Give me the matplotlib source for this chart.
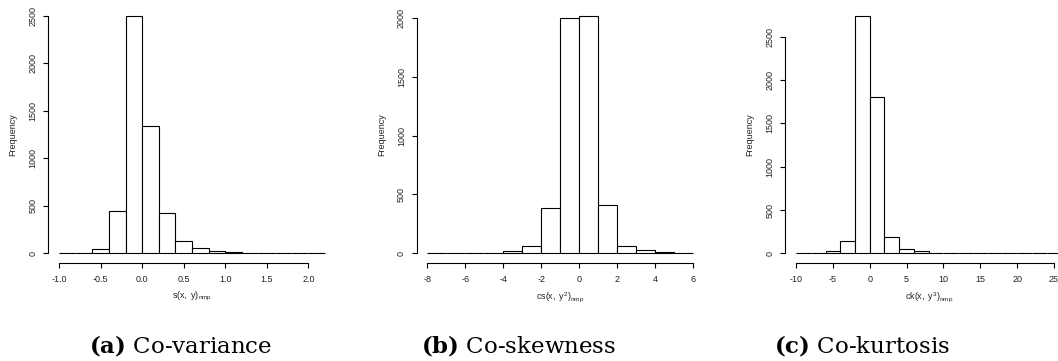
import numpy as np
import matplotlib
matplotlib.use('Agg')
import matplotlib.pyplot as plt

plt.rcParams['font.family'] = ['Liberation Sans', 'DejaVu Sans']
plt.rcParams['axes.unicode_minus'] = False
plt.rcParams['mathtext.fontset'] = 'custom'
plt.rcParams['mathtext.rm'] = 'Liberation Sans'
plt.rcParams['mathtext.it'] = 'Liberation Sans'

# ---- histogram counts (bin edges + frequencies) ----
cov_edges = np.arange(-1.0, 2.2 + 1e-9, 0.2)
cov_counts = [0, 0, 49, 451, 2500, 1344, 423, 136, 56, 21, 14, 7, 3, 1, 1, 1]
cov_xticks = [-1.0, -0.5, 0.0, 0.5, 1.0, 1.5, 2.0]
cov_yticks = [0, 500, 1000, 1500, 2000, 2500]

skew_edges = np.arange(-8, 7, 1)
skew_counts = [0, 0, 1, 8, 17, 65, 384, 2000, 2017, 412, 65, 28, 11, 6]
skew_xticks = [-8, -6, -4, -2, 0, 2, 4, 6]
skew_yticks = [0, 500, 1000, 1500, 2000]

kurt_edges = np.arange(-10, 27, 2)
kurt_counts = [0, 8, 30, 146, 2746, 1804, 185, 50, 23, 8, 4, 3, 1, 1, 0, 0, 0, 0]
kurt_xticks = [-10, -5, 0, 5, 10, 15, 20, 25]
kurt_yticks = [0, 500, 1000, 1500, 2000, 2500]

xlabels = [r'$\mathrm{s(x,\ y)_{nmp}}$',
           r'$\mathrm{cs(x,\ y^{2})_{nmp}}$',
           r'$\mathrm{ck(x,\ y^{3})_{nmp}}$']
captions = [r'$\mathbf{(a)}$ Co-variance',
            r'$\mathbf{(b)}$ Co-skewness',
            r'$\mathbf{(c)}$ Co-kurtosis']

W, H = 1058, 361
fig = plt.figure(figsize=(W / 100, H / 100), dpi=100)

# plot-region pixel boxes (left, right) ; top/bottom shared
boxes = [(48.4, 335.6), (416.7, 704.0), (785.4, 1072.0)]
top_px, bot_px = 6.0, 263.0
caption_x = [181, 519, 862]

panels = [
    (cov_edges, cov_counts, cov_xticks, cov_yticks, ['-1.0', '-0.5', '0.0', '0.5', '1.0', '1.5', '2.0']),
    (skew_edges, skew_counts, skew_xticks, skew_yticks, None),
    (kurt_edges, kurt_counts, kurt_xticks, kurt_yticks, None),
]

for i, (edges, counts, xt, yt, xtl) in enumerate(panels):
    l, r = boxes[i]
    ax = fig.add_axes([l / W, 1 - bot_px / H, (r - l) / W, (bot_px - top_px) / H])
    widths = np.diff(edges)
    ax.bar(edges[:-1], counts, width=widths, align='edge', facecolor='white',
           edgecolor='black', linewidth=0.8)
    # R-style 4% padding around the data range
    span_x = edges[-1] - edges[0]
    ymax = max(counts)
    ax.set_xlim(edges[0] - 0.04 * span_x, edges[-1] + 0.04 * span_x)
    ax.set_ylim(-0.04 * ymax, ymax * 1.04)
    for s in ['top', 'right']:
        ax.spines[s].set_visible(False)
    ax.spines['left'].set_bounds(yt[0], yt[-1])
    ax.spines['bottom'].set_bounds(xt[0], xt[-1])
    for s in ['left', 'bottom']:
        ax.spines[s].set_linewidth(0.8)
    ax.set_xticks(xt)
    if xtl:
        ax.set_xticklabels(xtl)
    ax.set_yticks(yt)
    ax.tick_params(axis='both', length=3.3, width=0.8, labelsize=6.5,
                   color='black', labelcolor='#222222')
    ax.tick_params(axis='x', pad=5.5)
    ax.tick_params(axis='y', pad=4.5)
    for lab in ax.get_yticklabels():
        lab.set_rotation(90)
        lab.set_va('center')
    ax.set_ylabel('Frequency', fontsize=6.5, labelpad=8, color='#222222')
    ax.set_xlabel(xlabels[i], fontsize=6.5, labelpad=4, color='#222222')
    fig.text(caption_x[i] / W, 1 - 352 / H, captions[i], ha='center', va='baseline',
             fontsize=16.5, family='DejaVu Serif', math_fontfamily='dejavuserif')

fig.savefig('out.png', dpi=100)
